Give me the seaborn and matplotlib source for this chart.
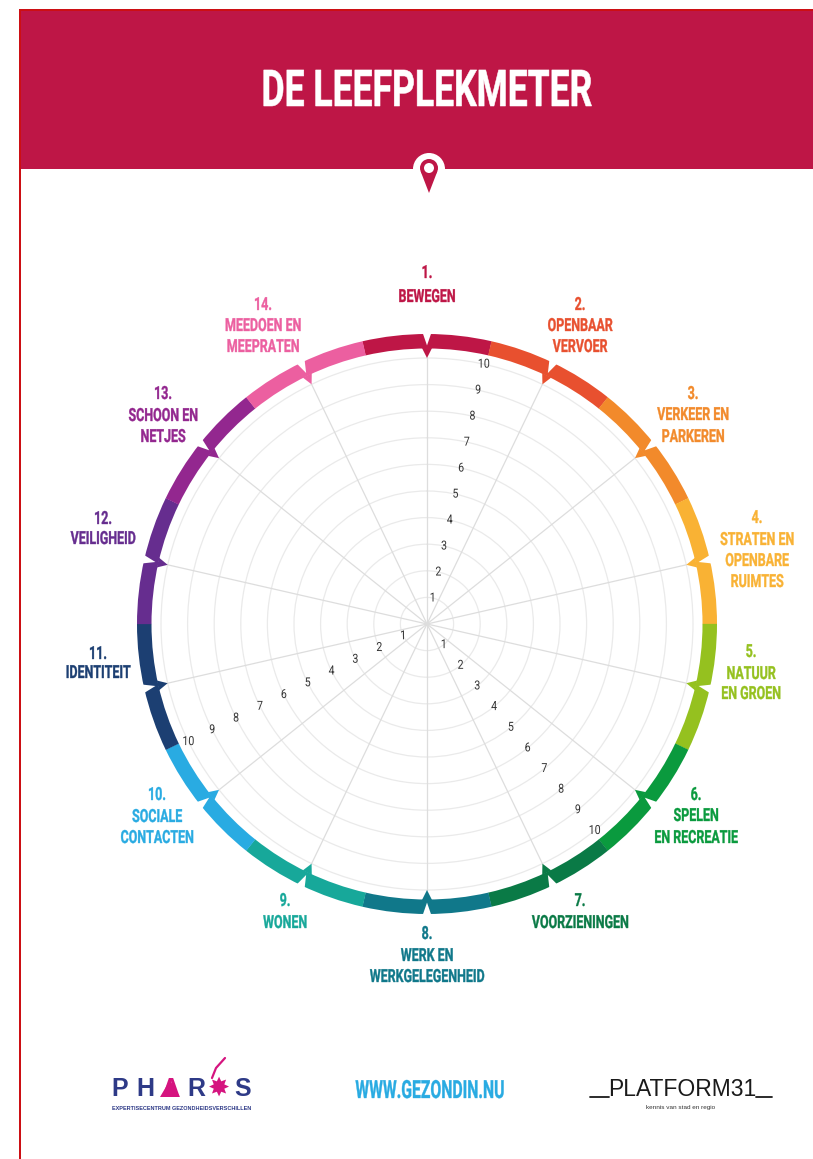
import numpy as np
import pandas as pd
import matplotlib
matplotlib.use("Agg")
import matplotlib.pyplot as plt
from matplotlib.patches import Rectangle, Polygon, Circle
from matplotlib.patheffects import AbstractPathEffect
from matplotlib.transforms import Affine2D
import seaborn as sns

# ---- data ----
categories = ["BEWEGEN", "OPENBAAR\nVERVOER", "VERKEER EN\nPARKEREN", "STRATEN EN\nOPENBARE\nRUIMTES",
              "NATUUR\nEN GROEN", "SPELEN\nEN RECREATIE", "VOORZIENINGEN", "WERK EN\nWERKGELEGENHEID",
              "WONEN", "SOCIALE\nCONTACTEN", "IDENTITEIT", "VEILIGHEID", "SCHOON EN\nNETJES",
              "MEEDOEN EN\nMEEPRATEN"]
numbers = ["1.", "2.", "3.", "4.", "5.", "6.", "7.", "8.", "9.", "10.", "11.", "12.", "13.", "14."]
scale_values = [1, 2, 3, 4, 5, 6, 7, 8, 9, 10]
scale_sectors = [0, 5, 9]          # sector after which a numbered scale is printed
title = "DE LEEFPLEKMETER"
website = "WWW.GEZONDIN.NU"

# ---- styles ----
palette = ["#BE1646", "#E8502F", "#F28A2B", "#F9B234", "#95C11F", "#0A9A3E", "#0A7A46",
           "#10788A", "#17A89A", "#29ABE2", "#1C3F72", "#662D8F", "#93278F", "#EC5FA0"]
CRIMSON = "#BE1646"
sns.set_theme(style="white")
plt.rcParams["font.family"] = ["Roboto", "DejaVu Sans"]


class Squeeze(AbstractPathEffect):
    """Condense a text horizontally about its anchor (no condensed font is installed)."""
    def __init__(self, text, sx, stroke=0.0):
        super().__init__()
        self.text, self.sx, self.stroke = text, sx, stroke

    def draw_path(self, renderer, gc, tpath, affine, rgbFace=None):
        x0 = self.text.get_transform().transform(self.text.get_unitless_position())[0]
        a = affine + Affine2D().translate(-x0, 0).scale(self.sx, 1).translate(x0, 0)
        g = renderer.new_gc()
        g.copy_properties(gc)
        if self.stroke:
            g.set_linewidth(self.stroke)
            g.set_foreground(rgbFace)
        renderer.draw_path(g, tpath, a, rgbFace)
        g.restore()


def ntext(axis, x, y, s, sx, stroke=0.0, **kw):
    t = axis.text(x, y, s, ha=kw.pop("ha", "center"), va="center", **kw)
    t.set_path_effects([Squeeze(t, sx, stroke)])
    return t


W, H = 813, 1159
fig = plt.figure(figsize=(W / 100, H / 100), dpi=100, facecolor="white")

# page layer in pixel coordinates
page = fig.add_axes([0, 0, 1, 1])
page.set_xlim(0, W); page.set_ylim(H, 0); page.axis("off")
page.add_patch(Rectangle((20, 10), W - 20, 159, fc=CRIMSON, ec="none"))
page.add_patch(Rectangle((19, 9), 2.2, H, fc="#CC0F14", ec="none", zorder=3))
page.add_patch(Rectangle((19, 9), W, 2, fc="#CC0F14", ec="none", zorder=3))
ntext(page, 427, 92, title, 0.70, 0.4, color="white", fontsize=36.5, fontweight="bold")
# location pin
page.add_patch(Circle((429, 169), 16, fc="white", ec="none", zorder=4))
page.add_patch(Polygon([[420.6, 171.2], [437.4, 171.2], [429, 193]], fc=CRIMSON, ec="none", zorder=5))
page.add_patch(Circle((429, 168), 9, fc=CRIMSON, ec="none", zorder=5))
page.add_patch(Circle((429, 168), 5, fc="white", ec="none", zorder=6))

# polar chart
CX, CY, UNIT = 427, 624, 26.6
R = 305
ax = fig.add_axes([(CX - R) / W, 1 - (CY + R) / H, 2 * R / W, 2 * R / H], projection="polar")
ax.patch.set_alpha(0)
ax.set_theta_zero_location("N")
ax.set_theta_direction(-1)
n = len(categories)
step = 2 * np.pi / n
thetas = np.arange(n) * step
r_in, r_out = 275.5 / UNIT, 290 / UNIT

ax.set_rgrids(scale_values, labels=[""] * len(scale_values))
ax.yaxis.grid(True, color="#EAEAEA", lw=0.9)
ax.xaxis.grid(False)
ax.set_xticks([])

spokes = pd.DataFrame({"theta": np.repeat(thetas, 2),
                       "r": np.tile([0, 10], n),
                       "spoke": np.repeat(np.arange(n), 2)})
sns.lineplot(data=spokes, x="theta", y="r", units="spoke", estimator=None,
             color="#DDDDDD", lw=0.9, sort=False, ax=ax, legend=False)
ax.set_xlabel(""); ax.set_ylabel("")

ax.bar(thetas, r_out - r_in, width=step * 1.002, bottom=r_in, color=palette, lw=0, zorder=3)
for th, col in zip(thetas, palette):
    dt = 5 / 275
    ax.fill([th - dt, th, th + dt], [r_in + 0.02, 10.0, r_in + 0.02], color=col, lw=0, zorder=4)
    dt2 = 4.2 / 290
    ax.fill([th - dt2, th, th + dt2], [r_out + 0.03, r_out - 0.43, r_out + 0.03],
            color="white", lw=0, zorder=5)

for sec in scale_sectors:
    th = (sec + 0.48) * step
    for v in scale_values:
        ntext(ax, th, v, str(v), 0.85, fontsize=9, color="#333333", zorder=6)
ax.set_ylim(0, R / UNIT)
ax.spines["polar"].set_visible(False)
ax.grid(False, axis="x")

# category labels: (centre x, y of each line)
layout = [
    (427, [273, 297]),
    (580, [305, 326, 347]),
    (693, [394, 415, 437]),
    (757, [518, 540, 561, 582]),
    (751, [652, 674, 694]),
    (696, [795, 816, 838]),
    (580, [901, 923]),
    (427, [934, 956, 977]),
    (285, [901, 923]),
    (157, [795, 817, 838]),
    (98, [654, 673]),
    (103, [519, 539]),
    (163, [394, 416, 437]),
    (263, [305, 326, 347]),
]
for num, cat, col, (x, ys) in zip(numbers, categories, palette, layout):
    for line, y in zip([num] + cat.split("\n"), ys):
        ntext(page, x, y, line, 0.69, 0.25, color=col, fontsize=13, fontweight="bold")

# footer
blue = "#2E3A87"
for ch, x in zip(["P", "H", "R", "S"], [120, 145, 196, 243]):
    page.text(x, 1089, ch, color=blue, ha="center", va="center", fontsize=18, fontweight="bold",
              family="Liberation Sans")
page.text(170, 1089, "A", color="#D5147F", ha="center", va="center", fontsize=18, fontweight="bold",
          family="Liberation Sans")
page.add_patch(Polygon([[160, 1097], [180, 1097], [170, 1080]], fc="#D5147F", ec="none"))
page.text(219, 1089, "\u2738", color="#D5147F", ha="center", va="center", fontsize=19, family="DejaVu Sans")
page.plot([212, 216, 225], [1078, 1068, 1058], color="#D5147F", lw=1.6)
page.text(182, 1108, "EXPERTISECENTRUM GEZONDHEIDSVERSCHILLEN", color=blue, ha="center", va="center",
          fontsize=3.95, fontweight="bold", family="Liberation Sans")
ntext(page, 430, 1091, website, 0.63, 0.25, color="#29ABE2", fontsize=18, fontweight="bold")
page.text(682, 1089, "PLATFORM31", color="#1A1A1A", ha="center", va="center", fontsize=16.5,
          family="Liberation Sans")
page.plot([590, 609], [1097, 1097], color="#1A1A1A", lw=1.3)
page.plot([756, 772], [1097, 1097], color="#1A1A1A", lw=1.3)
page.text(681, 1108, "kennis van stad en regio", color="#333333", ha="center", va="center", fontsize=4.6,
          family="Liberation Sans")

fig.savefig("out.png", dpi=100, facecolor="white")
